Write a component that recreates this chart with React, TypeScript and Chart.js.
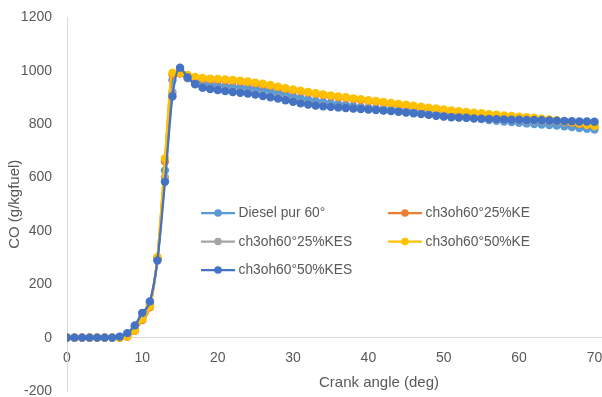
import React, { useEffect, useRef } from "react";
import { Chart, registerables } from "chart.js";

Chart.register(...registerables);

const angles = [
  0, 1, 2, 3, 4, 5, 6, 7, 8, 9, 10, 11, 12, 13, 14, 15, 16, 17, 18, 19, 20,
  21, 22, 23, 24, 25, 26, 27, 28, 29, 30, 31, 32, 33, 34, 35, 36, 37, 38, 39, 40,
  41, 42, 43, 44, 45, 46, 47, 48, 49, 50, 51, 52, 53, 54, 55, 56, 57, 58, 59, 60,
  61, 62, 63, 64, 65, 66, 67, 68, 69, 70,
];

const dieselPur60 = [
  0, 0, 0, 0, 0, 0, 0, 0, 8, 35, 80, 125, 295, 627, 965, 995, 975, 960, 953, 948, 945,
  942, 940, 938, 936, 932, 928, 923, 917, 911, 904, 898, 893, 888, 883, 879, 875, 872, 868, 865, 862,
  859, 856, 854, 852, 849, 846, 843, 840, 837, 834, 831, 828, 825, 822, 819, 816, 813, 810, 808, 805,
  803, 801, 799, 797, 795, 792, 789, 786, 783, 780,
];

const ch3oh25KE = [
  0, 0, 0, 0, 0, 0, 0, 0, 3, 26, 66, 114, 298, 660, 985, 990, 982, 974, 970, 968, 967,
  965, 963, 960, 957, 953, 949, 944, 938, 932, 927, 923, 918, 913, 909, 905, 901, 898, 894, 891, 887,
  884, 880, 877, 873, 870, 866, 863, 859, 856, 852, 849, 846, 843, 840, 838, 835, 833, 830, 828, 825,
  823, 821, 818, 815, 812, 808, 805, 801, 797, 793,
];

const ch3oh25KES = [
  0, 0, 0, 0, 0, 0, 0, 3, 14, 42, 90, 133, 292, 600, 920, 1005, 972, 950, 938, 933, 929,
  926, 923, 920, 917, 913, 908, 903, 898, 892, 886, 880, 876, 872, 869, 866, 864, 862, 860, 858, 856,
  854, 852, 850, 848, 845, 842, 839, 836, 833, 830, 827, 826, 824, 822, 821, 819, 818, 817, 816, 815,
  814, 813, 812, 811, 810, 809, 808, 807, 806, 805,
];

const ch3oh50KE = [
  0, 0, 0, 0, 0, 0, 0, 0, 4, 28, 70, 118, 302, 672, 993, 992, 985, 977, 973, 971, 970,
  968, 966, 963, 960, 956, 952, 947, 941, 935, 930, 926, 921, 916, 912, 908, 904, 901, 897, 894, 890,
  887, 883, 880, 876, 873, 869, 866, 862, 859, 855, 852, 849, 846, 843, 841, 838, 836, 833, 831, 828,
  826, 824, 821, 818, 815, 811, 807, 803, 798, 793,
];

const ch3oh50KES = [
  0, 0, 0, 0, 0, 0, 0, 4, 17, 46, 93, 136, 289, 584, 905, 1012, 975, 951, 937, 932, 928,
  924, 921, 918, 915, 911, 906, 901, 896, 890, 884, 878, 874, 870, 867, 865, 863, 861, 859, 857, 855,
  853, 851, 849, 847, 844, 841, 838, 835, 832, 829, 826, 825, 824, 822, 821, 820, 819, 818, 817, 817,
  816, 816, 815, 814, 813, 812, 811, 810, 810, 809,
];

const seriesLabels = [
  "Diesel pur 60°",
  "ch3oh60°25%KE",
  "ch3oh60°25%KES",
  "ch3oh60°50%KE",
  "ch3oh60°50%KES",
];
const seriesValues = [dieselPur60, ch3oh25KE, ch3oh25KES, ch3oh50KE, ch3oh50KES];
const seriesColors = ["#5B9BD5", "#ED7D31", "#A5A5A5", "#FFC000", "#4472C4"];

const FONT = "'Liberation Sans', Arial, sans-serif";
const TEXT = "#595959";
const AXIS = "#D9D9D9";

export default function App() {
  const ref = useRef<HTMLCanvasElement>(null);

  useEffect(() => {
    document.body.style.margin = "0";
    const canvas = ref.current;
    if (!canvas) return;
    Chart.defaults.font.family = FONT;

    const legendPlugin = {
      id: "excelLegend",
      afterDraw(chart: any) {
        const ctx = chart.ctx as CanvasRenderingContext2D;
        ctx.save();
        // x-axis title
        ctx.font = `15px ${FONT}`;
        ctx.fillStyle = TEXT;
        ctx.textAlign = "center";
        ctx.textBaseline = "middle";
        ctx.fillText("Crank angle (deg)", 379, 383);

        // legend inside plot
        const cols = [201, 388];
        const rows = [213, 241.5, 270];
        ctx.font = `13.8px ${FONT}`;
        ctx.textAlign = "left";
        chart.data.datasets.forEach((ds: any, i: number) => {
          const cx = cols[i % 2];
          const cy = rows[Math.floor(i / 2)];
          ctx.strokeStyle = ds.borderColor;
          ctx.lineWidth = 2.25;
          ctx.beginPath();
          ctx.moveTo(cx, cy);
          ctx.lineTo(cx + 34, cy);
          ctx.stroke();
          ctx.fillStyle = ds.borderColor;
          ctx.beginPath();
          ctx.arc(cx + 17, cy, 3.8, 0, Math.PI * 2);
          ctx.fill();
          ctx.fillStyle = TEXT;
          ctx.fillText(ds.label, cx + 37.5, cy + 0.5);
        });
        ctx.restore();
      },
    };

    const datasets = seriesLabels.map((label, i) => ({
      label,
      data: angles.map((x, j) => ({ x, y: seriesValues[i][j] })),
      borderColor: seriesColors[i],
      backgroundColor: seriesColors[i],
      pointBackgroundColor: seriesColors[i],
      pointBorderColor: seriesColors[i],
      pointRadius: 4.2,
      pointBorderWidth: 0,
      borderWidth: 2.25,
      cubicInterpolationMode: "monotone" as const,
      order: seriesLabels.length - i,
    }));

    const chart = new Chart(canvas, {
      type: "line",
      data: { datasets },
      options: {
        responsive: false,
        animation: false,
        devicePixelRatio: 1,
        layout: { autoPadding: false, padding: { top: 17.5, bottom: 6, left: 0, right: 0 } },
        plugins: { legend: { display: false }, tooltip: { enabled: false } },
        scales: {
          x: {
            type: "linear",
            position: { y: 0 } as any,
            min: 0,
            max: 71,
            grid: { display: false, drawTicks: false },
            border: { display: true, color: AXIS, width: 1 },
            ticks: {
              stepSize: 10,
              includeBounds: false,
              padding: 12,
              color: TEXT,
              font: { size: 14 },
              maxRotation: 0,
              callback: (v: any) => String(v),
            },
            afterFit: (s: any) => {
              s.height = 0;
              s.paddingLeft = 0;
              s.paddingRight = 0;
              s.paddingTop = 0;
              s.paddingBottom = 0;
            },
          },
          y: {
            type: "linear",
            position: "left",
            min: -200,
            max: 1200,
            grid: { display: false, drawTicks: false },
            border: { display: true, color: AXIS, width: 1 },
            ticks: {
              stepSize: 200,
              padding: 15,
              color: TEXT,
              font: { size: 14, lineHeight: 0.85 },
              callback: (v: any) => String(v),
            },
            title: {
              display: true,
              text: "CO (g/kgfuel)",
              color: TEXT,
              font: { size: 15 },
              padding: { top: 5.5, bottom: 0 },
            },
            afterFit: (s: any) => {
              s.width = 67;
              s.paddingTop = 0;
              s.paddingBottom = 0;
            },
          },
        },
      },
      plugins: [legendPlugin],
    });
    return () => chart.destroy();
  }, []);

  return (
    <div style={{ position: "absolute", left: 0, top: 0, width: 602, height: 397, background: "#fff" }}>
      <canvas ref={ref} width={602} height={397} style={{ display: "block" }} />
    </div>
  );
}
